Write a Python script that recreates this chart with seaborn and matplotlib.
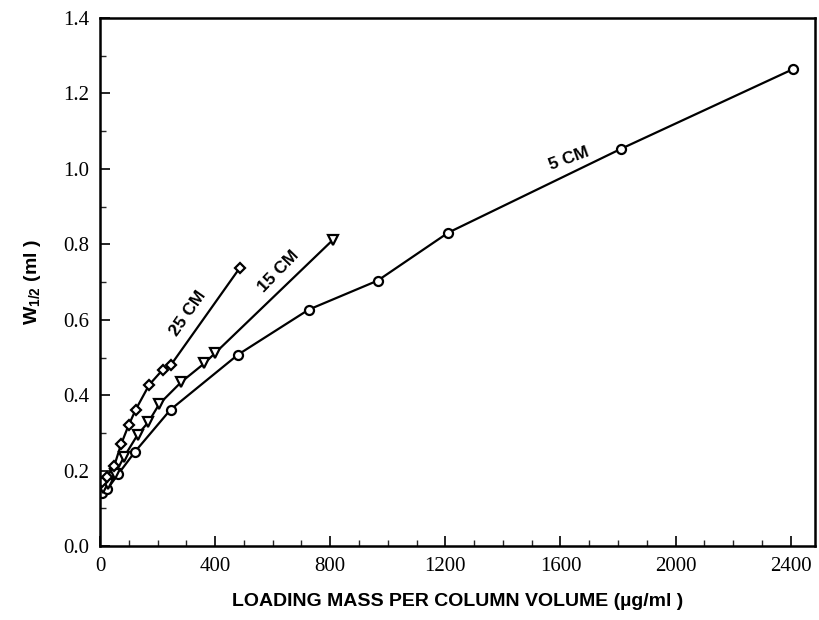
import numpy as np
import pandas as pd
import matplotlib
matplotlib.use("Agg")
import matplotlib.pyplot as plt
import seaborn as sns
from matplotlib.ticker import MultipleLocator

# === Data (loading mass in ug/ml, W1/2 in ml) ===
five_x = [6, 25, 64, 122, 245, 480, 725, 965, 1210, 1810, 2410]
five_y = [0.141, 0.151, 0.192, 0.251, 0.362, 0.508, 0.627, 0.704, 0.831, 1.053, 1.265]

fifteen_x = [10, 29, 52, 83, 131, 168, 206, 282, 363, 400, 808]
fifteen_y = [0.155, 0.166, 0.192, 0.236, 0.296, 0.329, 0.377, 0.435, 0.485, 0.512, 0.811]

twentyfive_x = [6, 23, 49, 73, 99, 124, 171, 218, 245, 485]
twentyfive_y = [0.17, 0.183, 0.212, 0.27, 0.32, 0.362, 0.428, 0.468, 0.479, 0.737]

x_ticks = [0, 400, 800, 1200, 1600, 2000, 2400]
y_ticks = [0.0, 0.2, 0.4, 0.6, 0.8, 1.0, 1.2, 1.4]

sns.set_theme(style="ticks")
plt.rcParams["font.family"] = ["Liberation Serif", "DejaVu Serif"]
plt.rcParams["text.color"] = "black"
plt.rcParams["axes.labelcolor"] = "black"

fig = plt.figure(figsize=(8.2, 6.2), dpi=100)
ax = fig.add_axes([0.122, 0.119, 0.872, 0.852])

series = [
    (five_x, five_y, "o", 6.5),
    (fifteen_x, fifteen_y, "v", 6.5),
    (twentyfive_x, twentyfive_y, "D", 5.5),
]
for xs, ys, mk, ms in series:
    df = pd.DataFrame({"x": xs, "y": ys})
    sns.lineplot(data=df, x="x", y="y", ax=ax, sort=False, color="black",
                 linewidth=1.6, marker=mk, markersize=ms,
                 markerfacecolor="white", markeredgecolor="black",
                 markeredgewidth=1.6)

ax.set_xlim(0, 2485)
ax.set_ylim(0, 1.4)
ax.set_xticks(x_ticks)
ax.set_yticks(y_ticks)
ax.set_yticklabels([f"{v:.1f}" for v in y_ticks])
ax.xaxis.set_minor_locator(MultipleLocator(100))
ax.yaxis.set_minor_locator(MultipleLocator(0.1))
ax.tick_params(which="major", direction="in", length=7, width=1.2,
               labelsize=15, pad=8, colors="black")
ax.tick_params(which="minor", direction="in", length=4, width=1.0)
for sp in ax.spines.values():
    sp.set_linewidth(1.8)
    sp.set_color("black")

bold = dict(family=["Liberation Sans", "DejaVu Sans"], fontweight="bold",
            color="black")
ax.set_xlabel("LOADING MASS PER COLUMN VOLUME (\u00b5g/ml )", fontsize=14,
              labelpad=12, **bold)
ax.set_ylabel("W$_{\\mathregular{1/2}}$ (ml )", fontsize=14, labelpad=14, **bold)

ax.text(304, 0.617, "25 CM", rotation=55, ha="center", va="center",
        fontsize=12.5, **bold)
ax.text(620, 0.728, "15 CM", rotation=46, ha="center", va="center",
        fontsize=12.5, **bold)
ax.text(1629, 1.028, "5 CM", rotation=20, ha="center", va="center",
        fontsize=12.5, **bold)

fig.savefig("out.png", dpi=100)
plt.close(fig)
